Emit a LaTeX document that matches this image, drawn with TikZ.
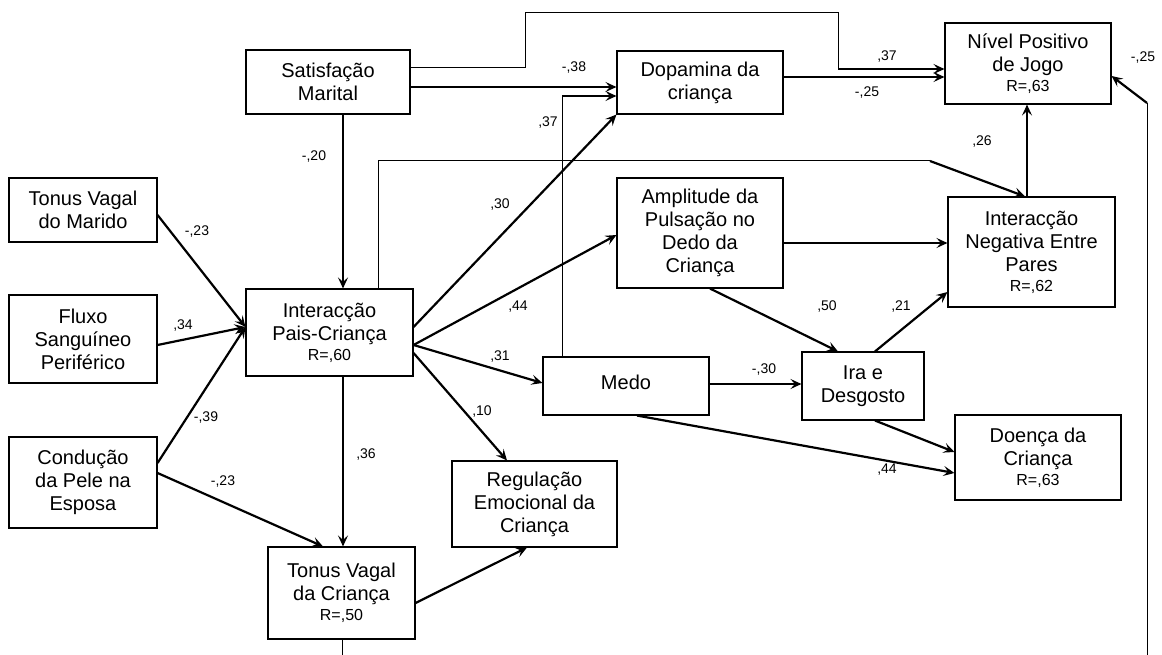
\documentclass[tikz,border=0pt]{standalone}
\usepackage{fontspec}
\setmainfont{Liberation Sans}
\usetikzlibrary{arrows.meta}
\newcommand{\Rval}[1]{\\[-3pt]{\fontsize{16}{18}\selectfont R=,#1}}

\begin{document}
\begin{tikzpicture}[x=1pt, y=-1pt,
  box/.style={draw, line width=1.1pt, align=center, inner sep=0pt, font=\fontsize{20}{23}\selectfont},
  sz/.style 2 args={minimum width=#1pt, minimum height=#2pt},
  lbl/.style={inner sep=0pt, font=\fontsize{14}{16}\selectfont},
  arr/.style={-{Stealth[length=11pt,width=10pt,inset=4.5pt]}, line width=2.2pt},
  ln/.style={line width=1pt}]
\useasboundingbox (0,0) rectangle (1162,655);
% boxes
\node[box, sz={164}{64}] (sat) at (328,82) {Satisfação\\Marital};
\node[box, sz={166}{63}] (dop) at (700,82.5) {Dopamina da\\criança};
\node[box, sz={166}{81}] (niv) at (1028,63.5) {Nível Positivo\\de Jogo\Rval{63}};
\node[box, sz={148}{64}] (tvm) at (83,210) {Tonus Vagal\\do Marido};
\node[box, sz={148}{88}] (flu) at (83,339) {Fluxo\\Sanguíneo\\Periférico};
\node[box, sz={148}{91}] (con) at (83,482.5) {Condução\\da Pele na\\Esposa};
\node[box, sz={167}{87}] (ipc) at (329.5,332.5) {Interacção\\Pais-Criança\Rval{60}};
\node[box, sz={147}{92}] (tvc) at (341.5,593) {Tonus Vagal\\da Criança\Rval{50}};
\node[box, sz={165}{86}] (reg) at (534.5,504) {Regulação\\Emocional da\\Criança};
\node[box, sz={166}{110}] (amp) at (700,233) {Amplitude da\\Pulsação no\\Dedo da\\Criança};
\node[box, sz={166}{58}] (med) at (626,386) {\raisebox{8pt}{Medo}};
\node[box, sz={122}{68}] (ira) at (863,386) {Ira e\\Desgosto};
\node[box, sz={167}{110}] (ine) at (1031.5,252) {Interacção\\Negativa Entre\\Pares\Rval{62}};
\node[box, sz={166}{85}] (doe) at (1038,457.5) {Doença da\\Criança\Rval{63}};
% connectors
\draw[ln] (sat.east |- 0,68) -- (525,68) |- (838,13) -- (838,69) coordinate (sn);
\draw[arr] (sn) -- (niv.west |- sn);
\draw[arr] (dop.east |- 0,77) -- (niv.west |- 0,77);
\draw[arr] (sat.east |- 0,87) -- (dop.west |- 0,87);
\draw[ln] (med.north -| 562,0) -- (562,96) coordinate (md);
\draw[arr] (md) -- (dop.west |- md);
\draw[arr] (sat.south -| 343,0) -- (ipc.north -| 343,0);
\draw[arr] (ipc.east |- 0,327) -- (dop.south west);
\draw[arr] (ipc.east |- 0,345) -- (amp.west |- 0,235);
\draw[arr] (ipc.east |- 0,345) -- (med.west |- 0,383);
\draw[arr] (ipc.east |- 0,353) -- (reg.north -| 507,0);
\draw[ln] (ipc.north -| 378,0) |- (930,161) coordinate (pi);
\draw[arr] (pi) -- (ine.north -| 1025,0);
\draw[arr] (ine.north -| 1027,0) -- (niv.south -| 1027,0);
\draw[arr] (tvm.east |- 0,215) -- (ipc.west |- 0,327);
\draw[arr] (flu.east |- 0,345) -- (ipc.west |- 0,327);
\draw[arr] (con.east |- 0,463) -- (ipc.west |- 0,327);
\draw[arr] (con.east |- 0,473) -- (tvc.north -| 323,0);
\draw[arr] (ipc.south -| 343,0) -- (tvc.north -| 343,0);
\draw[arr] (tvc.east |- 0,603) -- (reg.south -| 527,0);
\draw[arr] (amp.east |- 0,243) -- (ine.west |- 0,243);
\draw[arr] (amp.south -| 710,0) -- (ira.north -| 838,0);
\draw[arr] (ira.north -| 875,0) -- (ine.west |- 0,292);
\draw[arr] (med.east |- 0,384) -- (ira.west |- 0,384);
\draw[arr] (ira.south -| 875,0) -- (doe.west |- 0,452);
\draw[arr] (med.south -| 637,0) -- (doe.west |- 0,473);
\coordinate (cutL) at (342,655);
\coordinate (cutR) at (1147,655);
\coordinate (bend) at (1147,103);
\draw[ln] (tvc.south -| cutL) -- (cutL);
\draw[ln] (cutR) -- (bend);
\draw[arr] (bend) -- (niv.east |- 0,76);
% coefficients
\node[lbl] (wSatDop) at (574,68) {-,38};
\node[lbl] (wSatNiv) at (887,57) {,37};
\node[lbl] (wDopNiv) at (867,93) {-,25};
\node[lbl] (wMedDop) at (548,123) {,37};
\node[lbl] (wTvcNiv) at (1143,58) {-,25};
\node[lbl] (wSatIpc) at (314,157) {-,20};
\node[lbl] (wIneNiv) at (982,142) {,26};
\node[lbl] (wIpcDop) at (500,205) {,30};
\node[lbl] (wTvmIpc) at (197,232) {-,23};
\node[lbl] (wFluIpc) at (183,326) {,34};
\node[lbl] (wIpcAmp) at (518,307) {,44};
\node[lbl] (wAmpIra) at (827,307) {,50};
\node[lbl] (wIraIne) at (901,307) {,21};
\node[lbl] (wIpcMed) at (500,357) {,31};
\node[lbl] (wMedIra) at (764,370) {-,30};
\node[lbl] (wIpcReg) at (482,412) {,10};
\node[lbl] (wConIpc) at (206,418) {-,39};
\node[lbl] (wIpcTvc) at (366,455) {,36};
\node[lbl] (wConTvc) at (223,482) {-,23};
\node[lbl] (wMedDoe) at (887,470) {,44};
\end{tikzpicture}
\end{document}
